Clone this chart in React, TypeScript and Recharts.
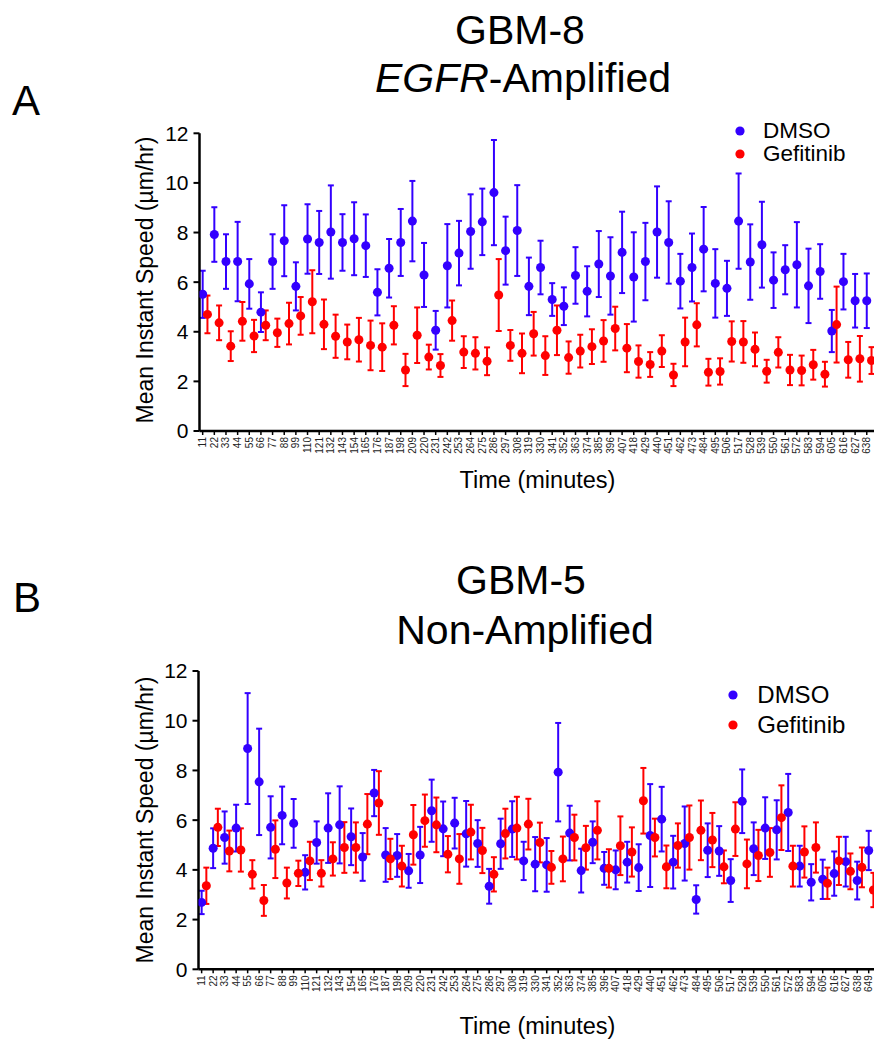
import React from 'react';
import { ScatterChart, Scatter, XAxis, YAxis, ErrorBar, Legend, Label } from 'recharts';

const FONT = '"Liberation Sans", Arial, Helvetica, sans-serif';
const BLUE = '#3300ff';
const RED = '#ff0000';

// Time points (minutes) used as x categories / tick labels
const timesA = [11, 22, 33, 44, 55, 66, 77, 88, 99, 110, 121, 132, 143, 154, 165, 176, 187, 198, 209, 220, 231, 242, 253, 264, 275, 286, 297, 308, 319, 330, 341, 352, 363, 374, 385, 396, 407, 418, 429, 440, 451, 462, 473, 484, 495, 506, 517, 528, 539, 550, 561, 572, 583, 594, 605, 616, 627, 638];
const timesB = [11, 22, 33, 44, 55, 66, 77, 88, 99, 110, 121, 132, 143, 154, 165, 176, 187, 198, 209, 220, 231, 242, 253, 264, 275, 286, 297, 308, 319, 330, 341, 352, 363, 374, 385, 396, 407, 418, 429, 440, 451, 462, 473, 484, 495, 506, 517, 528, 539, 550, 561, 572, 583, 594, 605, 616, 627, 638, 649];
const yTicks = [0, 2, 4, 6, 8, 10, 12];

// Panel A: GBM-8 EGFR-Amplified
const dmsoA = [5.51, 7.92, 6.83, 6.83, 5.93, 4.79, 6.83, 7.67, 5.83, 7.74, 7.60, 8.02, 7.60, 7.75, 7.47, 5.59, 6.56, 7.60, 8.46, 6.29, 4.06, 6.66, 7.17, 8.04, 8.43, 9.61, 7.27, 8.08, 5.83, 6.59, 5.30, 5.03, 6.27, 5.63, 6.73, 6.25, 7.20, 6.21, 6.83, 8.02, 7.60, 6.04, 6.59, 7.33, 5.95, 5.75, 8.46, 6.81, 7.51, 6.08, 6.50, 6.70, 5.85, 6.43, 4.03, 6.02, 5.25, 5.25];
const dmsoAErr = [0.95, 1.1, 1.1, 1.6, 1.0, 0.8, 1.1, 1.43, 0.97, 1.4, 1.27, 1.88, 1.14, 1.47, 1.26, 0.93, 1.18, 1.35, 1.62, 1.29, 0.78, 1.68, 1.3, 1.5, 1.34, 2.12, 1.37, 1.83, 1.16, 1.08, 0.66, 0.76, 1.14, 1.01, 1.33, 1.56, 1.64, 1.8, 1.56, 1.84, 1.66, 1.1, 1.37, 1.7, 1.38, 1.11, 1.92, 1.52, 1.73, 1.12, 0.99, 1.72, 1.5, 1.1, 0.85, 1.12, 1.08, 1.1];
const gefA = [4.70, 4.36, 3.42, 4.42, 3.83, 4.26, 3.96, 4.33, 4.64, 5.21, 4.30, 3.82, 3.59, 3.68, 3.45, 3.38, 4.26, 2.46, 3.86, 2.98, 2.64, 4.45, 3.18, 3.13, 2.81, 5.48, 3.45, 3.13, 3.92, 3.04, 4.06, 2.96, 3.22, 3.40, 3.63, 4.13, 3.34, 2.80, 2.68, 3.22, 2.26, 3.59, 4.28, 2.37, 2.40, 3.61, 3.59, 3.29, 2.41, 3.17, 2.46, 2.44, 2.67, 2.29, 4.29, 2.87, 2.91, 2.84];
const gefAErr = [0.76, 0.7, 0.6, 0.78, 0.65, 0.6, 0.57, 0.84, 0.76, 1.27, 1.0, 0.87, 0.7, 0.88, 1.0, 0.96, 0.77, 0.65, 1.12, 0.5, 0.46, 0.81, 0.64, 0.65, 0.56, 1.45, 0.62, 0.8, 0.88, 0.78, 1.0, 0.65, 0.66, 0.7, 0.84, 0.88, 0.97, 0.65, 0.5, 0.64, 0.45, 0.98, 0.87, 0.54, 0.53, 0.81, 0.84, 0.68, 0.46, 0.61, 0.61, 0.6, 0.6, 0.5, 1.53, 0.72, 0.92, 0.54];

// Panel B: GBM-5 Non-Amplified
const dmsoB = [2.69, 4.87, 5.30, 5.68, 8.88, 7.54, 5.71, 6.19, 5.87, 3.90, 5.10, 5.68, 5.81, 5.33, 4.52, 7.09, 4.60, 4.58, 3.96, 4.60, 6.38, 5.65, 5.88, 5.45, 5.06, 3.34, 5.05, 5.64, 4.36, 4.23, 4.20, 7.93, 5.48, 3.97, 5.11, 4.06, 4.00, 4.31, 4.09, 5.38, 6.04, 4.31, 5.06, 2.81, 4.79, 4.76, 3.57, 6.76, 4.85, 5.68, 5.61, 6.31, 4.15, 3.50, 3.62, 3.85, 4.33, 3.57, 4.78];
const dmsoBErr = [0.47, 0.8, 1.05, 0.94, 2.23, 2.14, 1.25, 1.16, 0.98, 0.69, 0.85, 1.4, 1.55, 1.14, 0.96, 0.93, 1.08, 0.86, 0.68, 1.13, 1.25, 1.1, 1.02, 1.32, 0.94, 0.7, 1.01, 1.12, 0.77, 1.09, 1.08, 1.98, 1.1, 0.88, 0.84, 0.66, 0.78, 0.82, 0.94, 2.07, 1.3, 1.06, 1.49, 0.57, 1.08, 1.0, 0.86, 1.28, 1.06, 1.24, 1.19, 1.55, 0.82, 0.73, 0.79, 0.89, 1.0, 0.76, 0.79];
const gefB = [3.36, 5.71, 4.76, 4.80, 3.82, 2.77, 4.83, 3.47, 3.86, 4.36, 3.86, 4.44, 4.90, 4.90, 5.84, 6.69, 4.44, 4.15, 5.41, 5.98, 5.81, 4.63, 4.44, 5.52, 4.78, 3.82, 5.46, 5.68, 5.84, 5.10, 4.10, 4.44, 5.30, 4.89, 5.59, 4.06, 4.97, 4.72, 6.78, 5.30, 4.12, 4.98, 5.30, 5.59, 5.20, 4.12, 5.64, 4.24, 4.58, 4.70, 6.10, 4.15, 4.72, 4.90, 3.46, 4.36, 3.94, 4.10, 3.19];
const gefBErr = [0.73, 0.75, 0.82, 0.87, 0.57, 0.62, 1.16, 0.62, 0.51, 0.77, 0.53, 0.67, 1.02, 1.01, 1.21, 1.28, 0.81, 0.82, 1.2, 1.05, 1.1, 0.73, 1.0, 1.1, 0.91, 0.69, 1.0, 1.26, 1.02, 0.8, 0.66, 0.9, 0.92, 0.88, 1.17, 0.77, 1.18, 0.99, 1.32, 0.76, 0.86, 0.89, 1.29, 1.2, 1.09, 0.66, 1.08, 0.98, 1.03, 0.98, 1.3, 0.82, 1.03, 1.01, 0.63, 0.97, 0.72, 0.8, 0.69];

// grouped-scatter side offset (minutes) for the second data set
const GROUP_SHIFT = 4.5;

function build(times: number[], values: number[], errs: number[], shift: number) {
  return values.map((v, i) => ({ x: times[i] + shift, y: v, e: errs[i] }));
}

const XTick = (props: any) => {
  const { x, y, payload } = props;
  return (
    <text
      x={x}
      y={y}
      transform={`rotate(-90 ${x} ${y})`}
      textAnchor="end"
      dy="0.35em"
      fontSize={10}
      fill="#222"
      fontFamily={FONT}
    >
      {payload.value}
    </text>
  );
};

const makeLegend = (rowH: number, fontSize: number, textGap: number) => (props: any) => {
  const payload = props.payload || [];
  return (
    <div style={{ fontFamily: FONT }}>
      {payload.map((entry: any) => (
        <div key={entry.value} style={{ display: 'flex', alignItems: 'center', height: rowH }}>
          <svg width={10} height={10} style={{ display: 'block' }}>
            <circle cx={5} cy={5} r={4.6} fill={entry.color || entry.payload?.fill} />
          </svg>
          <span style={{ marginLeft: textGap, fontSize, lineHeight: `${Math.min(fontSize, rowH - 1)}px`, color: '#000', whiteSpace: 'nowrap' }}>
            {entry.value}
          </span>
        </div>
      ))}
    </div>
  );
};

type PanelProps = {
  top: number;
  height: number;
  marginTop: number;
  xAxisHeight: number;
  yAxisWidth: number;
  domainMax: number;
  times: number[];
  dmso: any[];
  gef: any[];
  yLabelY: number;
  xLabelY: number;
  legendLeft: number;
  legendTop: number;
  legendRowH: number;
  legendFont: number;
  legendGap: number;
};

const Panel = (p: PanelProps) => (
  <div style={{ position: 'absolute', left: 0, top: p.top }}>
    <ScatterChart width={880} height={p.height} margin={{ top: p.marginTop, right: 0, bottom: 0, left: 0 }}>
      <XAxis
        type="number"
        dataKey="x"
        domain={[8, p.domainMax]}
        ticks={p.times}
        interval={0}
        tick={<XTick />}
        tickSize={4}
        tickMargin={2}
        height={p.xAxisHeight}
        axisLine={{ stroke: '#000', strokeWidth: 2.5 }}
        tickLine={{ stroke: '#000', strokeWidth: 1.5 }}
        allowDataOverflow
      >
        <Label
          content={() => (
            <text x={537.5} y={p.xLabelY} textAnchor="middle" fontSize={23.5} fontFamily={FONT} fill="#000">
              Time (minutes)
            </text>
          )}
        />
      </XAxis>
      <YAxis
        type="number"
        dataKey="y"
        domain={[0, 12]}
        ticks={yTicks}
        interval={0}
        width={p.yAxisWidth}
        tickSize={6}
        tickMargin={5}
        tick={{ fontSize: 21, fill: '#000', fontFamily: FONT }}
        axisLine={{ stroke: '#000', strokeWidth: 2.5 }}
        tickLine={{ stroke: '#000', strokeWidth: 2 }}
      >
        <Label
          content={() => (
            <text
              x={153}
              y={p.yLabelY}
              transform={`rotate(-90 153 ${p.yLabelY})`}
              textAnchor="middle"
              fontSize={23}
              fontFamily={FONT}
              fill="#000"
            >
              Mean Instant Speed (µm/hr)
            </text>
          )}
        />
      </YAxis>
      <Legend
        layout="horizontal"
        verticalAlign="middle"
        align="center"
        wrapperStyle={{ left: p.legendLeft, top: p.legendTop, width: 160 }}
        content={makeLegend(p.legendRowH, p.legendFont, p.legendGap)}
      />
      <Scatter name="DMSO" data={p.dmso} fill={BLUE} isAnimationActive={false}>
        <ErrorBar dataKey="e" direction="y" width={3} strokeWidth={2} stroke={BLUE} isAnimationActive={false} />
      </Scatter>
      <Scatter name="Gefitinib" data={p.gef} fill={RED} isAnimationActive={false}>
        <ErrorBar dataKey="e" direction="y" width={3} strokeWidth={2} stroke={RED} isAnimationActive={false} />
      </Scatter>
    </ScatterChart>
  </div>
);

export default function App() {
  const aDmso = build(timesA, dmsoA, dmsoAErr, 0);
  const aGef = build(timesA, gefA, gefAErr, GROUP_SHIFT);
  const bDmso = build(timesB, dmsoB, dmsoBErr, 0);
  const bGef = build(timesB, gefB, gefBErr, GROUP_SHIFT);

  return (
    <div
      style={{
        position: 'absolute',
        left: 0,
        top: 0,
        width: 874,
        height: 1042,
        overflow: 'hidden',
        background: '#fff',
        fontFamily: FONT,
      }}
    >
      <svg width={874} height={1042} style={{ position: 'absolute', left: 0, top: 0 }}>
        <g fontFamily={FONT} fill="#000">
          <text x={520} y={44} textAnchor="middle" fontSize={41}>GBM-8</text>
          <text x={523} y={92} textAnchor="middle" fontSize={41}>
            <tspan fontStyle="italic">EGFR</tspan>-Amplified
          </text>
          <text x={26} y={115} textAnchor="middle" fontSize={42}>A</text>
          <text x={521} y={594} textAnchor="middle" fontSize={41}>GBM-5</text>
          <text x={525} y={644} textAnchor="middle" fontSize={41}>Non-Amplified</text>
          <text x={27} y={612} textAnchor="middle" fontSize={42}>B</text>
        </g>
      </svg>
      <Panel
        top={0}
        height={500}
        marginTop={133.3}
        xAxisHeight={69}
        yAxisWidth={199.5}
        domainMax={650.5}
        times={timesA}
        dmso={aDmso}
        gef={aGef}
        yLabelY={280}
        xLabelY={488}
        legendLeft={735}
        legendTop={119.7}
        legendRowH={22.6}
        legendFont={22.5}
        legendGap={18}
      />
      <Panel
        top={540}
        height={502}
        marginTop={131}
        xAxisHeight={72.7}
        yAxisWidth={198.5}
        domainMax={659.8}
        times={timesB}
        dmso={bDmso}
        gef={bGef}
        yLabelY={280}
        xLabelY={494}
        legendLeft={728.3}
        legendTop={140}
        legendRowH={30}
        legendFont={24}
        legendGap={19}
      />
    </div>
  );
}
